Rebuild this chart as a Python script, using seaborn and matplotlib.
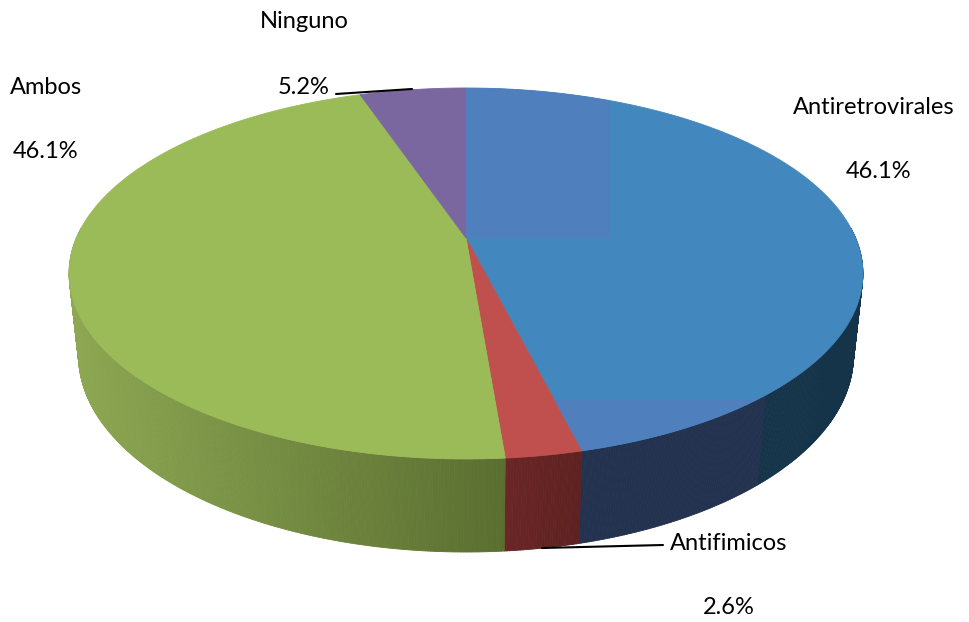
import numpy as np
import matplotlib
matplotlib.use("Agg")
import matplotlib.pyplot as plt
import seaborn as sns
from matplotlib.patches import Polygon
from matplotlib.collections import PolyCollection
from matplotlib.colors import to_rgb

# ---- data ----
categories = ["Antiretrovirales", "Antifimicos", "Ambos", "Ninguno"]
values = [46.1, 2.6, 46.1, 5.2]
pct_labels = ["46.1%", "2.6%", "46.1%", "5.2%"]

sns.set_theme(style="white")
plt.rcParams['font.family'] = ['Lato', 'DejaVu Sans']

top_colors = sns.color_palette(["#4387BF", "#C0504D", "#9BBB59", "#7A67A0"])
side_left = ["#22324F", "#6B2626", "#8DA752", "#5E4A7A"]
side_right = ["#15344A", "#5E2121", "#5A6E30", "#4A3A60"]

fig = plt.figure(figsize=(9.69, 6.22), dpi=100)
ax = fig.add_axes([0, 0, 1, 1])

# ---- 3D perspective projection of a thin cylinder (layout constants) ----
X0, Y0 = 466, 238          # projected centre of the top face
F = 1810.0                 # focal scale
D = 4.646                  # camera distance
S_E, C_E = 0.4587, 0.8886  # sin / cos of elevation
H = 0.2387                 # thickness


def proj(t_deg, z):
    t = np.radians(t_deg)
    X, Y = np.cos(t), np.sin(t)
    w = D + Y * C_E - z * S_E
    u = F * X / w
    v = F * (Y * S_E + z * C_E) / w
    return X0 + u, Y0 - v


fracs = np.array(values) / np.sum(values)
bounds = []
a = 90.0
for f in fracs:
    b = a - 360.0 * f
    bounds.append((a, b))
    a = b

# ---- side walls (drawn first; the top faces hide the back) ----
for i, (a, b) in enumerate(bounds):
    n = max(int(abs(a - b) * 3), 4)
    th = np.linspace(a, b, n + 1)
    xt, yt = proj(th, 0.0)
    xb, yb = proj(th, -H)
    vis = np.sin(np.radians(th)) < 0.05
    if vis.sum() < 2:
        continue
    xmin, xmax = xt[vis].min(), xt[vis].max()
    c0 = np.array(to_rgb(side_left[i])); c1 = np.array(to_rgb(side_right[i]))
    quads, cols = [], []
    for k in range(n):
        if not (vis[k] or vis[k + 1]):
            continue
        q = [(xt[k], yt[k]), (xt[k + 1], yt[k + 1]), (xb[k + 1], yb[k + 1]), (xb[k], yb[k])]
        xm = 0.5 * (xt[k] + xt[k + 1])
        if i == 0:
            col = c0 if xm < 765 else c1
        else:
            g = np.clip((xm - xmin) / max(xmax - xmin, 1), 0, 1)
            col = c0 * (1 - g) + c1 * g
        quads.append(q); cols.append(col)
    pc = PolyCollection(quads, facecolors=cols, edgecolors=cols, linewidths=0.6, zorder=1)
    ax.add_collection(pc)

# ---- top faces ----
for i, (a, b) in enumerate(bounds):
    th = np.linspace(a, b, 400)
    xs, ys = proj(th, 0.0)
    verts = np.vstack([[(X0, Y0)], np.column_stack([xs, ys])])
    poly = Polygon(verts, closed=True, facecolor=top_colors[i],
                   edgecolor=top_colors[i], linewidth=0.6, zorder=2)
    ax.add_patch(poly)
    if i == 0:
        # lighting blocks on the blue top face
        for (x0, x1, y0, y1) in [(X0, 610, 80, Y0), (540, 765, 400, 470)]:
            clip = Polygon(verts, closed=True, facecolor='none', edgecolor='none')
            im = ax.imshow(np.array([[to_rgb("#4F80BD")]]),
                           extent=(x0, x1, y1, y0), aspect='auto', zorder=2.1)
            ax.add_patch(clip)
            im.set_clip_path(clip)

# ---- labels ----
fs = 17
ax.text(874, 107, categories[0], ha='center', va='center', fontsize=fs, color='black')
ax.text(879, 172, pct_labels[0], ha='center', va='center', fontsize=fs, color='black')
ax.text(729, 544, categories[1], ha='center', va='center', fontsize=fs, color='black')
ax.text(729, 607, pct_labels[1], ha='center', va='center', fontsize=fs, color='black')
ax.text(46, 87, categories[2], ha='center', va='center', fontsize=fs, color='black')
ax.text(46, 152, pct_labels[2], ha='center', va='center', fontsize=fs, color='black')
ax.text(304, 22, categories[3], ha='center', va='center', fontsize=fs, color='black')
ax.text(304, 87, pct_labels[3], ha='center', va='center', fontsize=fs, color='black')

# leader lines
ax.plot([542, 663], [548, 545], color='black', lw=1.5, zorder=5)
ax.plot([336, 412], [94, 89], color='black', lw=1.5, zorder=5)

ax.set_xlim(0, 969)
ax.set_ylim(622, 0)
ax.axis('off')
fig.savefig("out.png", dpi=100, facecolor='white')
